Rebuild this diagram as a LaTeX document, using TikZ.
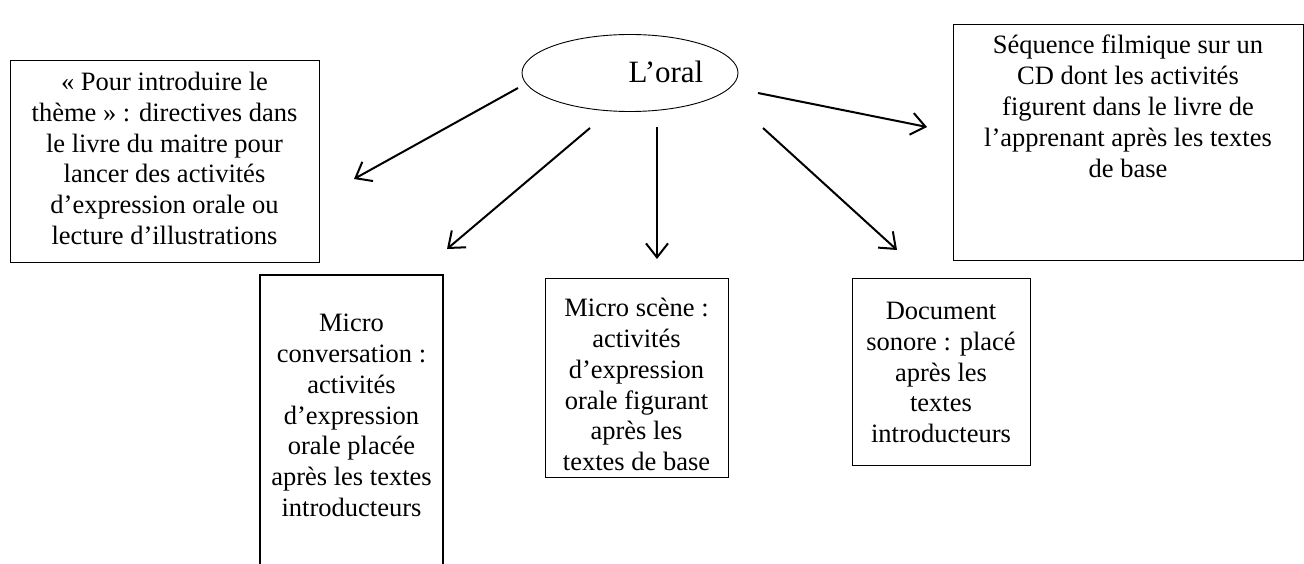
\documentclass[tikz,border=0pt]{standalone}
\usepackage{fontspec}
\setmainfont{Liberation Serif}
\usetikzlibrary{arrows.meta,shapes.geometric}
\begin{document}
\begin{tikzpicture}[x=1pt,y=-1pt,
  boxline/.style={draw=black,line width=1.2pt},
  boxnode/.style={boxline,anchor=north west,inner sep=0pt},
  boxtext/.style={anchor=north,align=center,inner sep=0pt,font=\fontsize{26.5}{30.8}\selectfont},
  conn/.style={draw=black,line width=2pt,-{Straight Barb[length=14pt,width=22pt]}}]
\useasboundingbox (0,0) rectangle (1304,564);
% central ellipse
\node[draw=black,ellipse,line width=0.9pt,minimum width=216pt,minimum height=77pt,inner sep=0pt] (oral) at (630,73) {};
\node[inner sep=0pt,font=\fontsize{31}{36}\selectfont] (oraltext) at (666,72) {L’oral};
% boxes
\node[boxnode,minimum width=309pt,minimum height=202pt] (leftbox) at (10,60) {};
\node[boxnode,minimum width=350pt,minimum height=236pt] (rightbox) at (953,24) {};
\node[boxnode,minimum width=183pt,minimum height=199pt] (scene) at (545,278) {};
\node[boxnode,minimum width=178pt,minimum height=187pt] (sonore) at (852,278) {};
\coordinate (convbl) at (260,570);
\coordinate (convtl) at (260,275);
\coordinate (convtr) at (443,275);
\coordinate (convbr) at (443,570);
\draw[boxline] (convbl) -- (convtl) -- (convtr) -- (convbr);
% texts
\node[boxtext] (tleft) at (164.5,72) {« Pour introduire le\\thème » : directives dans\\le livre du maitre pour\\lancer des activités\\d’expression orale ou\\lecture d’illustrations};
\node[boxtext] (tright) at (1128,35) {Séquence filmique sur un\\CD dont les activités\\figurent dans le livre de\\l’apprenant après les textes\\de base};
\node[boxtext] (tconv) at (351.5,314) {Micro\\conversation :\\activités\\d’expression\\orale placée\\après les textes\\introducteurs};
\node[boxtext] (tscene) at (636.5,298) {Micro scène :\\activités\\d’expression\\orale figurant\\après les\\textes de base};
\node[boxtext] (tsonore) at (941,302) {Document\\sonore : placé\\après les\\textes\\introducteurs};
% arrows
\coordinate (a1s) at (518,88);  \coordinate (a1e) at (354,179);
\coordinate (a2s) at (590,128); \coordinate (a2e) at (447,249);
\coordinate (a3s) at (657,127); \coordinate (a3e) at (657,259);
\coordinate (a4s) at (763,128); \coordinate (a4e) at (897,250);
\coordinate (a5s) at (758,93);  \coordinate (a5e) at (927,127);
\draw[conn] (a1s) -- (a1e);
\draw[conn] (a2s) -- (a2e);
\draw[conn] (a3s) -- (a3e);
\draw[conn] (a4s) -- (a4e);
\draw[conn] (a5s) -- (a5e);
\end{tikzpicture}
\end{document}
